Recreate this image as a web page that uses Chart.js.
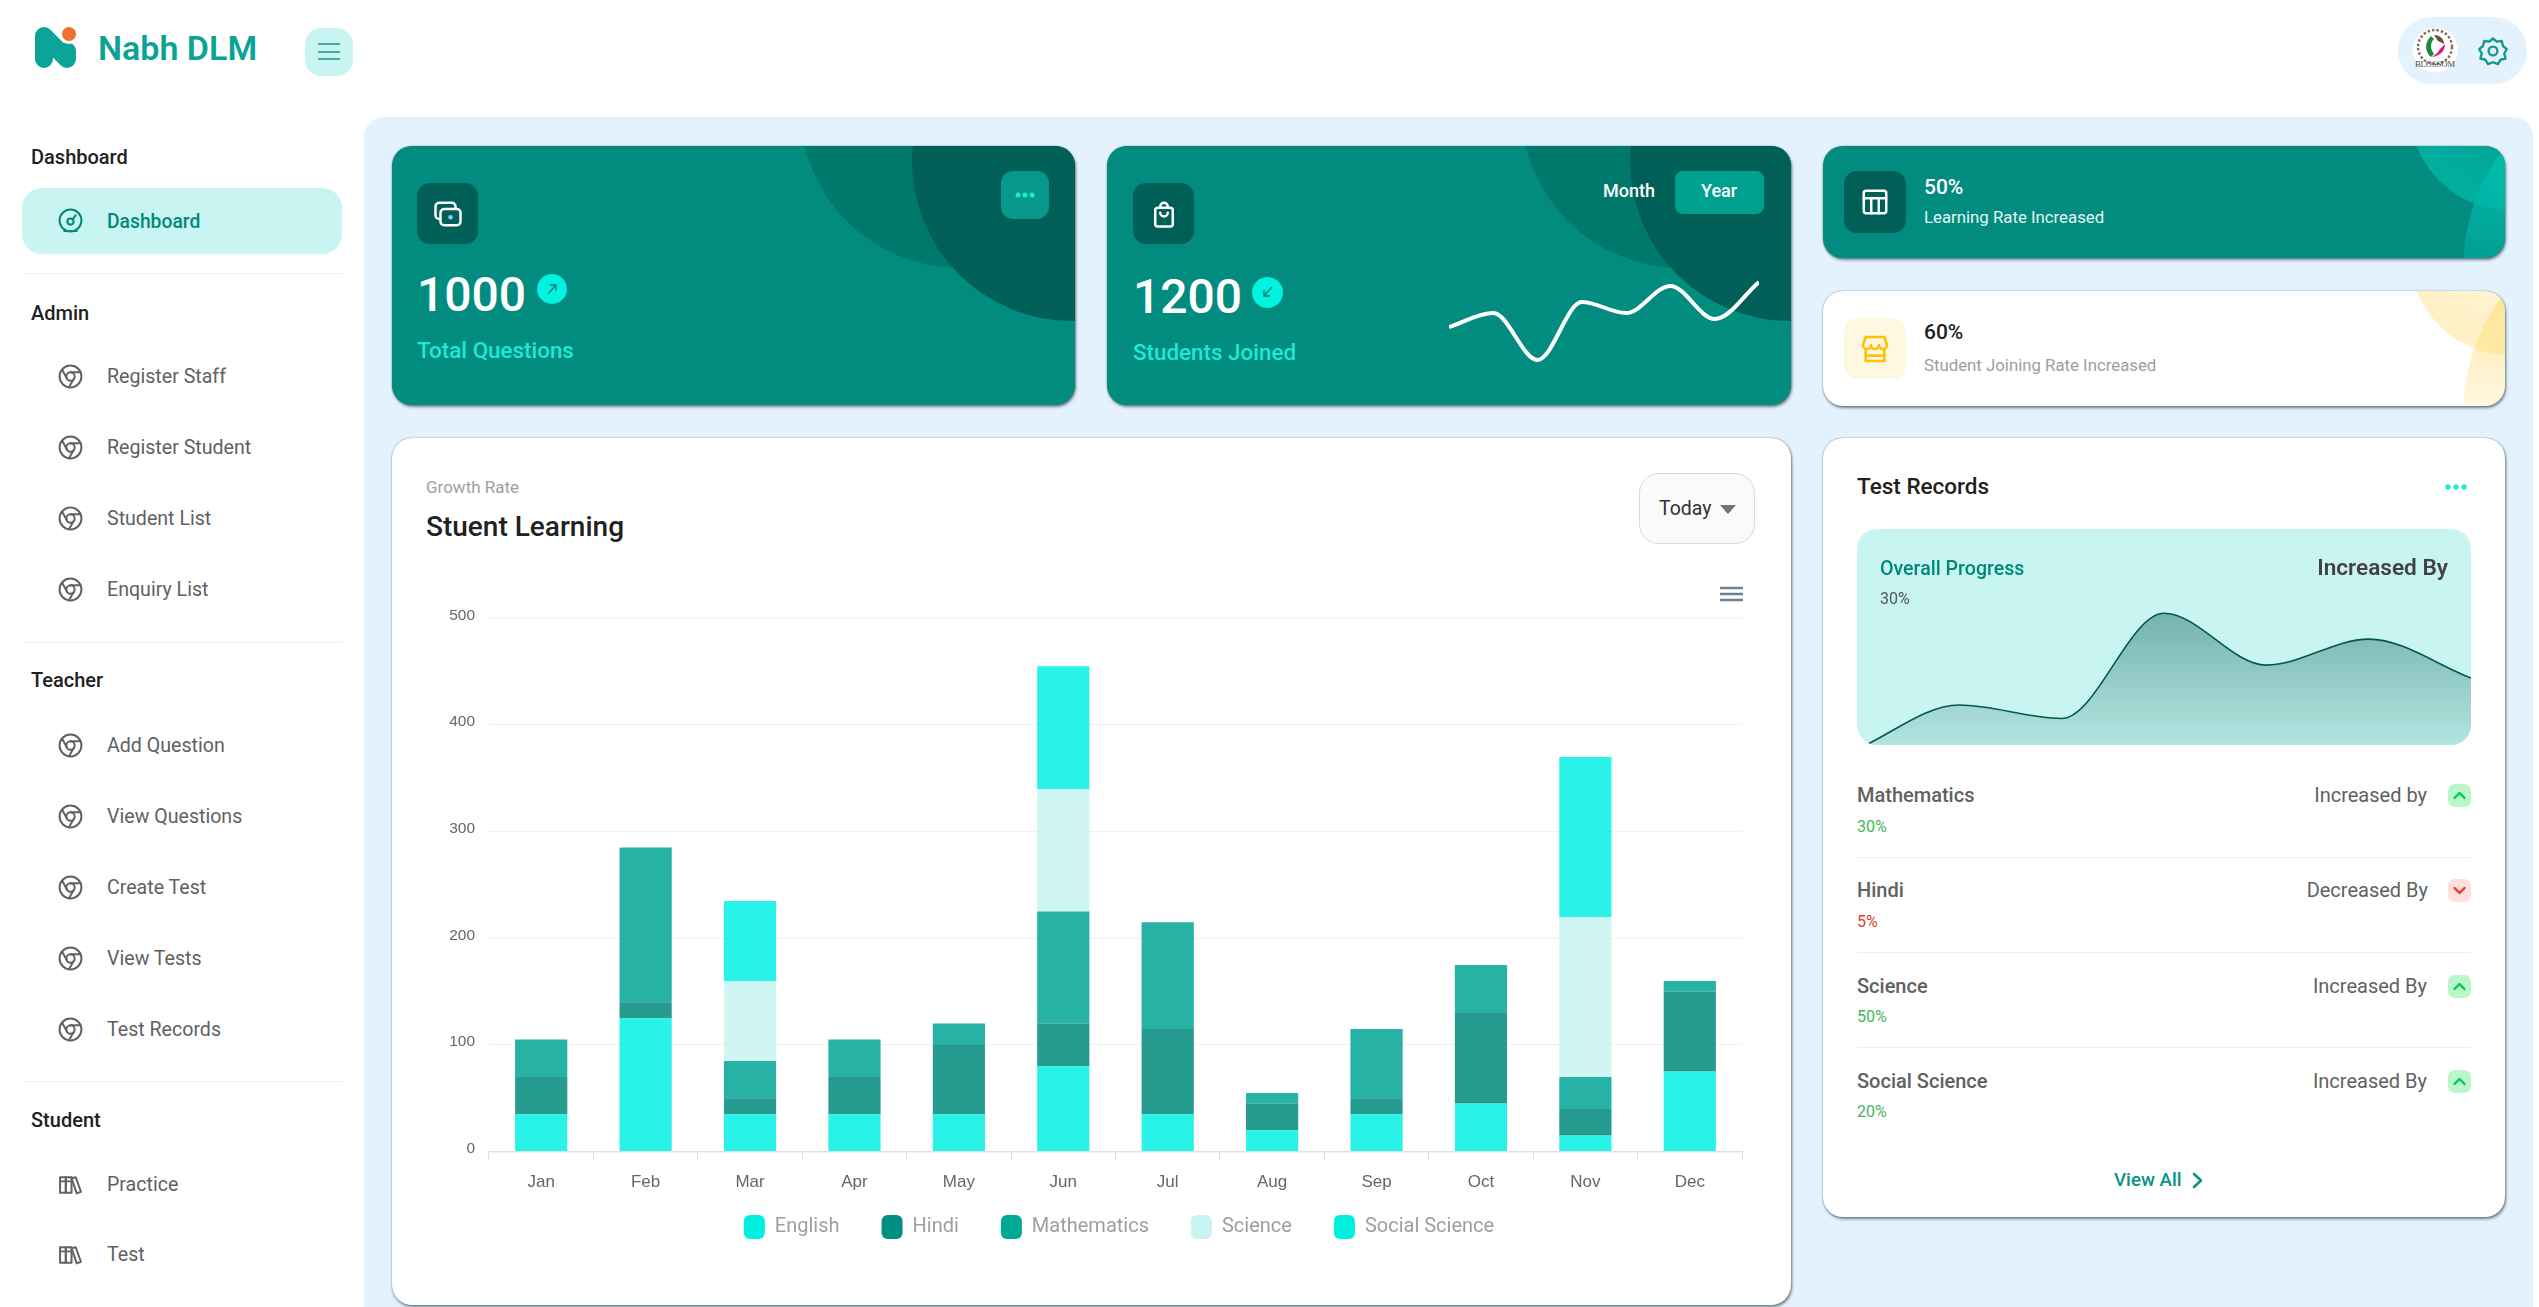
<!DOCTYPE html>
<html>
<head>
<meta charset="utf-8">
<title>Nabh DLM</title>
<script src="https://cdn.jsdelivr.net/npm/chart.js@4"></script>
<style>
html,body{margin:0;padding:0;width:2539px;height:1307px;overflow:hidden;background:#fff;font-family:Roboto,sans-serif}
.a{position:absolute}
.t{position:absolute;white-space:nowrap;line-height:1;transform:translateY(-50%)}
.r{transform:translate(-100%,-50%)}
.head{left:31px;font-size:20px;font-weight:500;color:#212121}
.item{left:107px;font-size:19.6px;color:#616161}
.ic{position:absolute;left:58px;width:25px;height:25px;fill:none;stroke:#616161;stroke-width:1.9;stroke-linecap:round;stroke-linejoin:round}
.hr{position:absolute;left:22px;width:320px;height:1px;background:#eeeeee}
.card{position:absolute;border-radius:20px;overflow:hidden;box-shadow:1px 2px 3px rgba(40,60,70,.6),0 0 1.5px rgba(40,60,70,.6)}
.teal{background:#028c80}
.circ{position:absolute;border-radius:50%}
.box{position:absolute;border-radius:13px;background:#005f56}
.box svg{position:absolute;left:50%;top:50%;transform:translate(-50%,-50%);fill:none;stroke:#fff;stroke-width:2;stroke-linecap:round;stroke-linejoin:round}
.name{left:1857px;font-size:20px;font-weight:500;color:#616161}
.pct{left:1857px;font-size:16px}
.rt{left:2427px;font-size:20px;font-weight:500;color:#616161;font-weight:400}
.bd{position:absolute;left:2448px;width:23px;height:23px;border-radius:7px}
.bd svg{position:absolute;left:3px;top:3px;fill:none;stroke-width:2.4;stroke-linecap:round;stroke-linejoin:round}
.line{position:absolute;left:1857px;width:614px;height:1px;background:#eeeeee}
</style>
</head>
<body>
<svg width="0" height="0" style="position:absolute">
  <symbol id="chrome" viewBox="0 0 24 24"><circle cx="12" cy="12" r="10.5"/><circle cx="12" cy="12" r="4"/><path d="M12 8h9.5M8.6 14 4 5.5M15.4 14 10.5 22.3"/></symbol>
  <symbol id="books" viewBox="0 0 24 24"><rect x="2" y="5" width="5.5" height="15"/><rect x="7.5" y="5" width="5.5" height="15"/><path d="M13 6l4-1 5 14-4 1.500zM2 9h11"/></symbol>
  <symbol id="up" viewBox="0 0 17 17"><path d="M3.500 11l5-5 5 5"/></symbol>
</svg>

<!-- header -->
<svg class="a" style="left:30px;top:22px" width="50" height="50" fill="none">
  <path d="M14 37V14L37 37V29" stroke="#0aa596" stroke-width="18" stroke-linecap="round" stroke-linejoin="round"/>
  <circle cx="39" cy="12" r="8.500" fill="#f0702e" stroke="#fff" stroke-width="3"/>
</svg>
<div class="t" style="left:98px;top:48px;font-size:34px;font-weight:600;color:#0aa495">Nabh DLM</div>
<div class="a" style="left:305px;top:28px;width:48px;height:48px;border-radius:16px;background:#c8f5f1">
  <svg class="a" style="left:13px;top:14px" width="22" height="20" stroke="#1f8f85" stroke-width="1.700"><path d="M0 2h22M0 10h22M0 17h22"/></svg>
</div>
<div class="a" style="left:2398px;top:17px;width:129px;height:67px;border-radius:34px;background:#e3f2fd"></div>
<svg class="a" style="left:2410px;top:26px" width="50" height="50">
  <circle cx="25" cy="24" r="22.500" fill="#fff"/>
  <circle cx="25" cy="21" r="17" fill="none" stroke="#8d6e63" stroke-width="2.500" stroke-dasharray="2.500 2"/>
  <path d="M21 10c-7 7-6 16 0 21l3-3c-4-5-4-11 0-15z" fill="#1b8a3a"/>
  <path d="M22 31c8-1 13-6 13-13l-5 5c-2 4-5 6-8 8z" fill="#d81b7a"/>
  <path d="M24 9c6 0 10 4 10 9l-6-3z" fill="#6d4c41"/>
  <text x="25" y="41" font-size="8.500" font-family="Liberation Serif" text-anchor="middle" fill="#444">BLOSSOM</text>
</svg>
<svg class="a" style="left:2478px;top:36px" width="30" height="30" viewBox="0 0 24 24" fill="none" stroke="#12998c" stroke-width="1.900" stroke-linejoin="round">
  <path d="M12 2l3 2.500 4-.5 1 4 3 2.500-2 3.500 1 4-4 1-2 3.500-4-1.500-4 1.500-2-3.500-4-1 1-4-2-3.500 3-2.500 1-4 4 .5z"/><circle cx="12" cy="12" r="3.500"/>
</svg>

<!-- sidebar -->
<div class="t head" style="top:157px">Dashboard</div>
<div class="a" style="left:22px;top:188px;width:320px;height:66px;border-radius:20px;background:#c8f5f1"></div>
<svg class="ic" style="top:208px;stroke:#00897b" viewBox="0 0 24 24"><circle cx="12" cy="12" r="10.500"/><circle cx="12" cy="13" r="3"/><path d="M14 11l3-4M6 22h12"/></svg>
<div class="t item" style="top:222px;color:#00897b;font-weight:500;font-size:19.3px">Dashboard</div>
<div class="hr" style="top:273px"></div>

<div class="t head" style="top:313px">Admin</div>
<svg class="ic" style="top:364px"><use href="#chrome"/></svg><div class="t item" style="top:377px">Register Staff</div>
<svg class="ic" style="top:435px"><use href="#chrome"/></svg><div class="t item" style="top:448px">Register Student</div>
<svg class="ic" style="top:506px"><use href="#chrome"/></svg><div class="t item" style="top:519px">Student List</div>
<svg class="ic" style="top:577px"><use href="#chrome"/></svg><div class="t item" style="top:590px">Enquiry List</div>
<div class="hr" style="top:642px"></div>

<div class="t head" style="top:680px">Teacher</div>
<svg class="ic" style="top:733px"><use href="#chrome"/></svg><div class="t item" style="top:746px">Add Question</div>
<svg class="ic" style="top:804px"><use href="#chrome"/></svg><div class="t item" style="top:817px">View Questions</div>
<svg class="ic" style="top:875px"><use href="#chrome"/></svg><div class="t item" style="top:888px">Create Test</div>
<svg class="ic" style="top:946px"><use href="#chrome"/></svg><div class="t item" style="top:959px">View Tests</div>
<svg class="ic" style="top:1017px"><use href="#chrome"/></svg><div class="t item" style="top:1030px">Test Records</div>
<div class="hr" style="top:1081px"></div>

<div class="t head" style="top:1120px">Student</div>
<svg class="ic" style="top:1172px"><use href="#books"/></svg><div class="t item" style="top:1185px">Practice</div>
<svg class="ic" style="top:1242px"><use href="#books"/></svg><div class="t item" style="top:1255px">Test</div>

<!-- main panel -->
<div class="a" style="left:364px;top:117px;width:2169px;height:1190px;border-radius:20px 20px 0 0;background:#e3f2fd"></div>

<!-- card 1 -->
<div class="card teal" style="left:392px;top:146px;width:683px;height:259px">
  <div class="circ" style="left:408px;top:-198px;width:320px;height:320px;background:#00796d"></div>
  <div class="circ" style="left:520px;top:-145px;width:320px;height:320px;background:#005f56"></div>
  <div class="box" style="left:25px;top:37px;width:61px;height:61px">
    <svg width="30" height="30" viewBox="0 0 24 24"><rect x="2" y="3" width="16" height="13" rx="3"/><rect x="6" y="8" width="16" height="13" rx="3" fill="#005f56"/><circle cx="14" cy="14.500" r="1.800" fill="#90caf9" stroke="none"/></svg>
  </div>
  <div class="a" style="left:609px;top:25px;width:48px;height:48px;border-radius:12px;background:#07988b">
    <svg class="a" style="left:14px;top:21px" width="20" height="6" fill="#1eeadb"><circle cx="3" cy="3" r="2.500"/><circle cx="10" cy="3" r="2.500"/><circle cx="17" cy="3" r="2.500"/></svg>
  </div>
</div>
<div class="t" style="left:417px;top:295px;font-size:48px;font-weight:500;color:#fff">1000</div>
<div class="a" style="left:537px;top:274px;width:30px;height:30px;border-radius:50%;background:#00f2e0"><svg class="a" style="left:8px;top:8px" width="14" height="14" fill="none" stroke="#0a7a70" stroke-width="1.300"><path d="M3 12L11 3M5 3h6v6"/></svg></div>
<div class="t" style="left:417px;top:350px;font-size:22.4px;font-weight:500;color:#1ee8d6">Total Questions</div>

<!-- card 2 -->
<div class="card teal" style="left:1107px;top:146px;width:684px;height:259px">
  <div class="circ" style="left:414px;top:-198px;width:320px;height:320px;background:#00796d"></div>
  <div class="circ" style="left:523px;top:-145px;width:320px;height:320px;background:#005f56"></div>
  <div class="box" style="left:26px;top:37px;width:61px;height:61px">
    <svg width="30" height="30" viewBox="0 0 24 24"><rect x="5" y="7" width="14" height="15" rx="2"/><path d="M9 7V6a3 3 0 0 1 6 0v1M9 11a3 3 0 0 0 6 0"/></svg>
  </div>
  <div class="a" style="left:568px;top:25px;width:89px;height:43px;border-radius:8px;background:#00a08f"></div>
</div>
<div class="t" style="left:1603px;top:191px;font-size:18px;font-weight:500;color:#fff">Month</div>
<div class="t" style="left:1701px;top:191px;font-size:18px;font-weight:500;color:#fff">Year</div>
<div class="t" style="left:1133px;top:297px;font-size:48px;font-weight:500;color:#fff">1200</div>
<div class="a" style="left:1252px;top:277px;width:31px;height:31px;border-radius:50%;background:#00f2e0"><svg class="a" style="left:9px;top:8px" width="14" height="14" fill="none" stroke="#0a7a70" stroke-width="1.300"><path d="M11 2L3 11M3 5v6h6"/></svg></div>
<div class="t" style="left:1133px;top:352px;font-size:22.4px;font-weight:500;color:#1ee8d6">Students Joined</div>
<div class="a" style="left:1449px;top:270px;width:310px;height:100px"><canvas id="sparkChart"></canvas></div>

<!-- card 3 -->
<div class="card teal" style="left:1823px;top:146px;width:682px;height:112px">
  <div class="circ" style="left:587px;top:-136px;width:200px;height:200px;background:linear-gradient(215deg,rgba(0,175,160,.15) 25%,rgba(0,175,160,.95) 80%)"></div>
  <div class="circ" style="left:640px;top:-79px;width:406px;height:406px;background:linear-gradient(180deg,rgba(0,190,175,.95) 20%,rgba(0,170,155,.55) 50%)"></div>
  <div class="box" style="left:21px;top:25px;width:62px;height:62px">
    <svg width="30" height="30" viewBox="0 0 24 24"><rect x="3" y="3" width="18" height="18" rx="2"/><path d="M3 9h18M9 9v12M15 9v12"/></svg>
  </div>
</div>
<div class="t" style="left:1924px;top:187px;font-size:21px;font-weight:500;color:#fff">50%</div>
<div class="t" style="left:1924px;top:217px;font-size:16.8px;color:#e6f5f3">Learning Rate Increased</div>

<!-- card 4 -->
<div class="card" style="left:1823px;top:291px;width:682px;height:115px;background:#fff">
  <div class="circ" style="left:587px;top:-136px;width:200px;height:200px;background:linear-gradient(215deg,rgba(255,224,130,.1) 25%,rgba(255,224,130,.45) 80%)"></div>
  <div class="circ" style="left:640px;top:-79px;width:406px;height:406px;background:linear-gradient(180deg,rgba(255,224,130,.75) 20%,rgba(255,224,130,.2) 50%)"></div>
  <div class="box" style="left:21px;top:27px;width:62px;height:61px;background:#fff8e1">
    <svg width="32" height="32" viewBox="0 0 24 24" style="stroke:#ffc107"><path d="M3 9l2-6h14l2 6a3 3 0 0 1-6 0 3 3 0 0 1-6 0 3 3 0 0 1-6 0zM5 12v9h14v-9M5 17h14"/></svg>
  </div>
</div>
<div class="t" style="left:1924px;top:332px;font-size:21px;font-weight:500;color:#212121">60%</div>
<div class="t" style="left:1924px;top:365px;font-size:16.8px;color:#9e9e9e">Student Joining Rate Increased</div>

<!-- main chart card -->
<div class="card" style="left:392px;top:438px;width:1399px;height:867px;background:#fff"></div>
<div class="t" style="left:426px;top:487px;font-size:17px;color:#9e9e9e">Growth Rate</div>
<div class="t" style="left:426px;top:527px;font-size:28px;font-weight:500;color:#212121">Stuent Learning</div>
<div class="a" style="left:1639px;top:473px;width:116px;height:71px;border-radius:20px;border:1px solid #d9d9d9;background:#fafafa;box-sizing:border-box"></div>
<div class="t" style="left:1659px;top:509px;font-size:19.500px;color:#333">Today</div>
<svg class="a" style="left:1720px;top:505px" width="16" height="9" fill="#757575"><path d="M0 0h16L8 9z"/></svg>
<svg class="a" style="left:1720px;top:586px" width="23" height="16" stroke="#6e8192" stroke-width="2.600"><path d="M0 2h23M0 8h23M0 14h23"/></svg>
<div class="a" style="left:400px;top:595px;width:1380px;height:687px"><canvas id="mainChart"></canvas></div>

<!-- test records card -->
<div class="card" style="left:1823px;top:438px;width:682px;height:779px;background:#fff"></div>
<div class="t" style="left:1857px;top:486px;font-size:22.5px;font-weight:500;color:#212121">Test Records</div>
<svg class="a" style="left:2445px;top:483px" width="22" height="8" fill="#1eeadb"><circle cx="3" cy="4" r="2.700"/><circle cx="11" cy="4" r="2.700"/><circle cx="19" cy="4" r="2.700"/></svg>
<div class="a" style="left:1857px;top:529px;width:614px;height:216px;border-radius:20px;overflow:hidden;background:#c8f5f1"><canvas id="progressChart"></canvas></div>
<div class="t" style="left:1880px;top:569px;font-size:19.6px;font-weight:500;color:#00897b">Overall Progress</div>
<div class="t r" style="left:2448px;top:568px;font-size:22.6px;font-weight:600;color:#424242">Increased By</div>
<div class="t" style="left:1880px;top:599px;font-size:16px;color:#555">30%</div>

<div class="t name" style="top:795px">Mathematics</div>
<div class="t pct" style="top:827px;color:#43b65c">30%</div>
<div class="t r rt" style="top:795px">Increased by</div>
<div class="bd" style="top:784px;background:#b9f6ca"><svg width="17" height="17" stroke="#00c853"><use href="#up"/></svg></div>
<div class="line" style="top:857px"></div>

<div class="t name" style="top:890px">Hindi</div>
<div class="t pct" style="top:922px;color:#d9422f">5%</div>
<div class="t r rt" style="top:890px;left:2428px">Decreased By</div>
<div class="bd" style="top:879px;background:#fde0dc"><svg width="17" height="17" stroke="#e53935" style="transform:scaleY(-1)"><use href="#up"/></svg></div>
<div class="line" style="top:952px"></div>

<div class="t name" style="top:986px">Science</div>
<div class="t pct" style="top:1017px;color:#43b65c">50%</div>
<div class="t r rt" style="top:986px">Increased By</div>
<div class="bd" style="top:975px;background:#b9f6ca"><svg width="17" height="17" stroke="#00c853"><use href="#up"/></svg></div>
<div class="line" style="top:1047px"></div>

<div class="t name" style="top:1081px">Social Science</div>
<div class="t pct" style="top:1112px;color:#43b65c">20%</div>
<div class="t r rt" style="top:1081px">Increased By</div>
<div class="bd" style="top:1070px;background:#b9f6ca"><svg width="17" height="17" stroke="#00c853"><use href="#up"/></svg></div>

<div class="t" style="left:2114px;top:1180px;font-size:18.8px;font-weight:500;color:#0a9385">View All</div>
<svg class="a" style="left:2192px;top:1172px" width="12" height="17" fill="none" stroke="#0a9385" stroke-width="2.600" stroke-linecap="round" stroke-linejoin="round"><path d="M2 2l7 6.500-7 6.500"/></svg>

<script>
const months=['Jan','Feb','Mar','Apr','May','Jun','Jul','Aug','Sep','Oct','Nov','Dec'];
const english=[35,125,35,35,35,80,35,20,35,45,15,75];
const hindi=[35,15,15,35,65,40,80,25,15,85,25,75];
const mathematics=[35,145,35,35,20,105,100,10,65,45,30,10];
const science=[0,0,75,0,0,115,0,0,0,0,150,0];
const socialScience=[0,0,75,0,0,115,0,0,0,0,150,0];
const yTicks=[0,100,200,300,400,500];

const sparkLabels=['a','b','c','d','e','f','g','h'];
const sparkValues=[43,57,10,68,57,84,51,88];
const progressLabels=['a','b','c','d','e','f','g'];
const progressValues=[-2,18.5,12.3,61,37,49,31];

Chart.defaults.font.family='Roboto';
Chart.defaults.animation=false;

function solid(name,data,fill,marker){
  return {label:name,data:data,backgroundColor:fill,marker:marker,borderWidth:0,stack:'s'};
}

// legend sits closer to the axis and further right than chart.js would put it
const moveLegend={
  id:'moveLegend',
  afterLayout(chart){
    const l=chart.legend;
    l.top-=33; l.bottom-=33;
    l.left+=48; l.right+=48;
  }
};

new Chart(document.getElementById('mainChart'),{
  type:'bar',
  plugins:[moveLegend],
  data:{
    labels:months,
    datasets:[
      solid('English',english,'rgba(0,241,228,.84)','#00f0e0'),
      solid('Hindi',hindi,'rgba(0,137,123,.85)','#008f82'),
      solid('Mathematics',mathematics,'rgba(0,166,150,.85)','#00a896'),
      solid('Science',science,'rgba(200,245,241,.85)','#c8f5f1'),
      solid('Social Science',socialScience,'rgba(0,241,228,.84)','#00f0e0')
    ]
  },
  options:{
    responsive:true,
    maintainAspectRatio:false,
    layout:{padding:{top:15,right:38,left:0,bottom:0}},
    datasets:{bar:{categoryPercentage:.5,barPercentage:1}},
    plugins:{
      tooltip:{enabled:false},
      legend:{
        position:'bottom',
        labels:{
          boxWidth:21,boxHeight:24,padding:42,useBorderRadius:true,
          color:'#9e9e9e',font:{size:20},
          generateLabels:(chart)=>chart.data.datasets.map((d,i)=>({
            text:d.label,fillStyle:d.marker,strokeStyle:d.marker,lineWidth:0,
            fontColor:'#9e9e9e',borderRadius:6,datasetIndex:i
          }))
        }
      }
    },
    scales:{
      x:{
        stacked:true,
        border:{color:'#e0e0e0',width:1.5},
        grid:{drawOnChartArea:false,tickLength:8,color:'#dcdcdc'},
        ticks:{color:'#666',font:{family:'Liberation Sans',size:17},padding:13,maxRotation:0}
      },
      y:{
        stacked:true,min:0,max:500,
        afterFit:(axis)=>{axis.width=89},
        afterBuildTicks:(axis)=>{axis.ticks=yTicks.map(v=>({value:v}))},
        border:{display:false},
        grid:{color:'#f1f1f1',drawTicks:false},
        ticks:{color:'#666',font:{family:'Liberation Sans',size:15.5},padding:14,labelOffset:-3}
      }
    }
  }
});

new Chart(document.getElementById('sparkChart'),{
  type:'line',
  data:{labels:sparkLabels,datasets:[{
    data:sparkValues,borderColor:'#fff',borderWidth:4,pointRadius:0,
    cubicInterpolationMode:'monotone',clip:false
  }]},
  options:{
    responsive:true,maintainAspectRatio:false,
    plugins:{legend:{display:false},tooltip:{enabled:false}},
    scales:{x:{display:false},y:{display:false,min:0,max:100}}
  }
});

new Chart(document.getElementById('progressChart'),{
  type:'line',
  data:{labels:progressLabels,datasets:[{
    data:progressValues,borderColor:'#00574f',borderWidth:1.6,pointRadius:0,
    cubicInterpolationMode:'monotone',fill:'start',
    backgroundColor:(c)=>{
      const area=c.chart.chartArea;
      if(!area) return 'transparent';
      const g=c.chart.ctx.createLinearGradient(0,area.top+70,0,area.bottom);
      g.addColorStop(0,'rgba(0,87,79,.45)');
      g.addColorStop(1,'rgba(0,87,79,.1)');
      return g;
    }
  }]},
  options:{
    responsive:true,maintainAspectRatio:false,
    plugins:{legend:{display:false},tooltip:{enabled:false}},
    scales:{x:{display:false},y:{display:false,min:0,max:100}}
  }
});
</script>
</body>
</html>
